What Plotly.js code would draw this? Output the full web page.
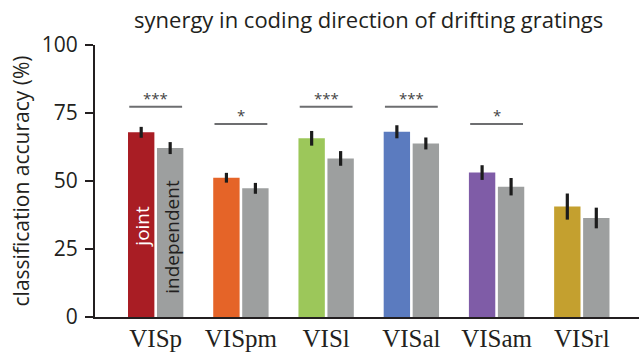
<!DOCTYPE html>
<html>
<head>
<meta charset="utf-8">
<script src="https://cdn.plot.ly/plotly-3.0.1.min.js"></script>
<style>
  html, body { margin: 0; padding: 0; background: #fff; }
  #chart { width: 639px; height: 352px; }
</style>
</head>
<body>
<div id="chart"></div>
<script>
// Visual areas
const areas = ["VISp", "VISpm", "VISl", "VISal", "VISam", "VISrl"];

// Classification accuracy (%) and error half-widths
const jointAcc = [67.9, 51.2, 65.7, 68.1, 53.1, 40.6];
const jointErr = [2.0, 1.8, 2.7, 2.4, 2.7, 4.8];
const indepAcc = [62.1, 47.3, 58.3, 63.8, 47.9, 36.4];
const indepErr = [2.2, 2.0, 2.7, 2.2, 3.2, 3.8];

// Significance markers per area and the height of their brackets
const sigLabel = ["***", "*", "***", "***", "*", ""];
const sigLevel = [77.3, 71.0, 77.3, 77.3, 71.0, null];

const areaColors = ["#a91d24", "#e56428", "#9cc75a", "#5b7bbf", "#7f5ca7", "#c4a02f"];
const grey = "#9d9f9f";
const ink = "#231f20";

const errStyle = { type: "data", visible: true, thickness: 3.2, width: 0, color: "#1c1c1c" };

const traces = [
  {
    type: "bar", name: "joint", x: areas, y: jointAcc,
    marker: { color: areaColors, line: { width: 0 } },
    error_y: Object.assign({ array: jointErr }, errStyle),
    hoverinfo: "skip"
  },
  {
    type: "bar", name: "independent", x: areas, y: indepAcc,
    marker: { color: grey, line: { width: 0 } },
    error_y: Object.assign({ array: indepErr }, errStyle),
    hoverinfo: "skip"
  }
];

const shapes = [];
const annotations = [];
areas.forEach((a, i) => {
  if (sigLevel[i] === null) return;
  shapes.push({
    type: "line", xref: "x", yref: "y",
    x0: i - 0.31, x1: i + 0.31, y0: sigLevel[i], y1: sigLevel[i],
    line: { color: "#6d6e70", width: 2 }
  });
  annotations.push({
    x: i, y: sigLevel[i], xref: "x", yref: "y",
    text: sigLabel[i], showarrow: false,
    yanchor: "bottom", yshift: -3,
    font: { family: "Open Sans, sans-serif", size: 15, color: "#444" }
  });
});

// In-bar labels naming the two bar kinds
annotations.push({
  x: 0, y: 33.1, xref: "x", yref: "y", xshift: -14,
  text: "joint", textangle: -90, showarrow: false,
  font: { family: "Open Sans, sans-serif", size: 19, color: "#ffffff" }
});
annotations.push({
  x: 0, y: 29.4, xref: "x", yref: "y", xshift: 16,
  text: "independent", textangle: -90, showarrow: false,
  font: { family: "Open Sans, sans-serif", size: 19, color: ink }
});

const layout = {
  width: 639, height: 352,
  margin: { l: 95, r: 0, t: 45, b: 35, pad: 0 },
  paper_bgcolor: "#ffffff", plot_bgcolor: "#ffffff",
  showlegend: false,
  barmode: "group",
  bargap: 0.32,
  bargroupgap: 0.09,
  title: {
    text: "synergy in coding direction of drifting gratings",
    x: 0.577, xanchor: "center",
    y: 1 - 20 / 352, yanchor: "middle",
    font: { family: "Open Sans, sans-serif", size: 22, color: ink }
  },
  xaxis: {
    type: "category",
    range: [-0.712, 5.671],
    showline: true, linecolor: ink, linewidth: 2,
    ticks: "", showgrid: false, zeroline: false,
    tickfont: { family: "Liberation Serif, serif", size: 25, color: ink },
    ticklabelstandoff: -2
  },
  yaxis: {
    range: [0, 100],
    tickvals: [0, 25, 50, 75, 100],
    showline: true, linecolor: ink, linewidth: 2,
    ticks: "outside", ticklen: 8, tickwidth: 2, tickcolor: ink,
    showgrid: false, zeroline: false,
    tickfont: { family: "Open Sans, sans-serif", size: 21, color: ink },
    ticklabelstandoff: 3,
    title: {
      text: "classification accuracy (%)",
      font: { family: "Open Sans, sans-serif", size: 21, color: ink },
      standoff: 6
    }
  },
  shapes: shapes,
  annotations: annotations
};

Plotly.newPlot("chart", traces, layout, { displayModeBar: false, staticPlot: true });
</script>
</body>
</html>
